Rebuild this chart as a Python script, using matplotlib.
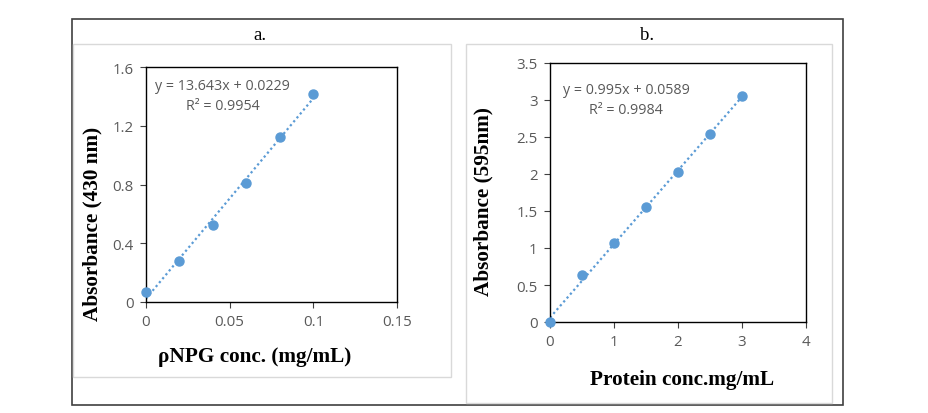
import matplotlib.pyplot as plt
from matplotlib.patches import Rectangle

# panel a: pNPG standard curve
npg_conc = [0, 0.02, 0.04, 0.06, 0.08, 0.1]
npg_abs = [0.068, 0.279, 0.527, 0.813, 1.123, 1.416]
npg_slope, npg_icpt = 13.643, 0.0229

# panel b: protein standard curve
prot_conc = [0, 0.5, 1, 1.5, 2, 2.5, 3]
prot_abs = [0.0, 0.641, 1.061, 1.549, 2.023, 2.534, 3.049]
prot_slope, prot_icpt = 0.995, 0.0589

W, H = 929, 414
blue = "#5B9BD5"
grey = "#595959"
serif = "Liberation Serif"
sans = "Open Sans"

fig = plt.figure(figsize=(W / 100, H / 100), dpi=100)

def px(x0, y0, x1, y1):  # pixel box -> figure fraction rect
    return [x0 / W, 1 - y1 / H, (x1 - x0) / W, (y1 - y0) / H]

# outer frame and the two light chart areas
fig.patches.append(Rectangle((72 / W, 1 - 406 / H), (843 - 72) / W, (406 - 20) / H,
                             transform=fig.transFigure, fill=False, ec="#404040", lw=1.2))
fig.patches.append(Rectangle((73 / W, 1 - 378 / H), (451 - 73) / W, (378 - 45) / H,
                             transform=fig.transFigure, fill=False, ec="#d9d9d9", lw=1.0))
fig.patches.append(Rectangle((466 / W, 1 - 404 / H), (832 - 466) / W, (404 - 45) / H,
                             transform=fig.transFigure, fill=False, ec="#d9d9d9", lw=1.0))
fig.text(260 / W, 1 - 35 / H, "a.", family=serif, fontsize=13.5, ha="center", va="center")
fig.text(647 / W, 1 - 35 / H, "b.", family=serif, fontsize=13.5, ha="center", va="center")


def draw(ax, xs, ys, slope, icpt, xlim, ylim, xticks, yticks, xtl, ytl):
    fit_x = [xs[0], xs[-1]]
    fit_y = [slope * v + icpt for v in fit_x]
    ax.plot(fit_x, fit_y, ls=(0, (1, 1.3)), color=blue, lw=1.6)
    ax.plot(xs, ys, "o", color=blue, ms=6.5, clip_on=False, zorder=3)
    ax.set_xlim(xlim)
    ax.set_ylim(ylim)
    ax.set_xticks(xticks, xtl)
    ax.set_yticks(yticks, ytl)
    ax.tick_params(direction="out", length=4, width=0.8, color="#404040",
                   labelcolor=grey, labelsize=10.8, pad=5)
    for lab in ax.get_xticklabels() + ax.get_yticklabels():
        lab.set_family(sans)
    for s in ax.spines.values():
        s.set_linewidth(1.0)
        s.set_color("black")


ax1 = fig.add_axes(px(146, 68, 397, 303))
draw(ax1, npg_conc, npg_abs, npg_slope, npg_icpt, (0, 0.15), (0, 1.6),
     [0, 0.05, 0.1, 0.15], [0, 0.4, 0.8, 1.2, 1.6],
     ["0", "0.05", "0.1", "0.15"], ["0", "0.4", "0.8", "1.2", "1.6"])
fig.text(222 / W, 1 - 87 / H, f"y = {npg_slope}x + {npg_icpt}", family=sans,
         fontsize=10.3, color=grey, ha="center", va="center")
fig.text(223 / W, 1 - 107 / H, "R² = 0.9954", family=sans,
         fontsize=10.3, color=grey, ha="center", va="center")
fig.text(92 / W, 1 - 224 / H, "Absorbance (430 nm)", family=serif, weight="bold",
         fontsize=15.3, rotation=90, ha="center", va="center")
fig.text(255 / W, 1 - 357 / H, "ρNPG conc. (mg/mL)", family=serif, weight="bold",
         fontsize=15.3, ha="center", va="center")

ax2 = fig.add_axes(px(550, 64, 806, 323))
draw(ax2, prot_conc, prot_abs, prot_slope, prot_icpt, (0, 4), (0, 3.5),
     [0, 1, 2, 3, 4], [0, 0.5, 1, 1.5, 2, 2.5, 3, 3.5],
     ["0", "1", "2", "3", "4"], ["0", "0.5", "1", "1.5", "2", "2.5", "3", "3.5"])
fig.text(626 / W, 1 - 91 / H, f"y = {prot_slope}x + {prot_icpt}", family=sans,
         fontsize=10.3, color=grey, ha="center", va="center")
fig.text(626 / W, 1 - 111 / H, "R² = 0.9984", family=sans,
         fontsize=10.3, color=grey, ha="center", va="center")
fig.text(483 / W, 1 - 202 / H, "Absorbance (595nm)", family=serif, weight="bold",
         fontsize=15.3, rotation=90, ha="center", va="center")
fig.text(682 / W, 1 - 380 / H, "Protein conc.mg/mL", family=serif, weight="bold",
         fontsize=15.3, ha="center", va="center")

fig.savefig("out.png", dpi=100)
